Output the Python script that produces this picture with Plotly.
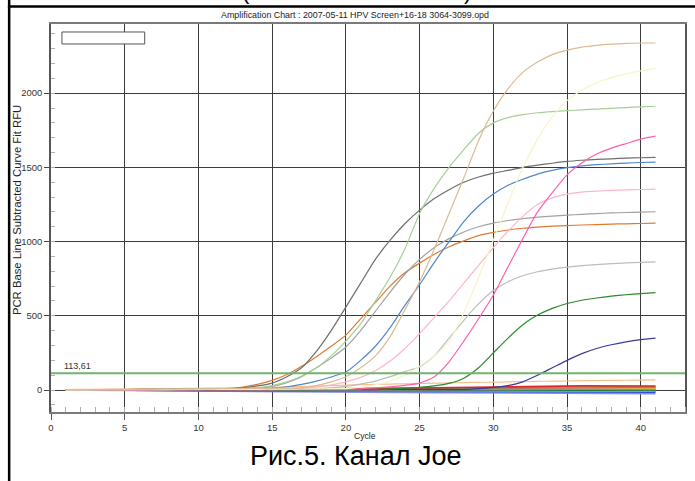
import plotly.graph_objects as go

# ---- data -------------------------------------------------------------
cycles = list(range(1, 42))

tan_curve = [2, 3, 3, 4, 4, 5, 5, 6, 6, 7, 8, 9, 10, 11, 12, 13,
             15, 30, 55, 90, 150, 230, 360, 540, 730, 950, 1190, 1430, 1680, 1880,
             2030, 2140, 2210, 2260, 2290, 2310, 2322, 2330, 2335, 2338, 2338]
pale_yellow_curve = [1, 1, 2, 2, 2, 3, 3, 3, 4, 4, 4, 5, 5, 5, 6, 6, 7, 8, 9,
                     10, 20, 35, 60, 100, 160, 230, 330, 520, 760, 1010, 1260, 1500,
                     1690, 1840, 1950, 2020, 2070, 2105, 2130, 2150, 2165]
light_green_curve = [1, 2, 2, 3, 3, 4, 4, 5, 5, 6, 7, 9, 11,
                     15, 30, 55, 95, 150, 230, 330, 445, 600, 760, 950, 1190, 1360,
                     1500, 1620, 1730, 1800, 1835, 1855, 1868, 1876, 1882, 1888, 1893,
                     1898, 1903, 1908, 1912]
magenta_curve = [0, 0, 1, 1, 1, 1, 2, 2, 2, 2, 2, 3, 3, 3, 3, 4, 4, 4, 5,
                 5, 8, 15, 22, 32, 47, 90, 190, 330, 480, 640, 830, 1020, 1200,
                 1330, 1450, 1530, 1590, 1630, 1660, 1690, 1710]
dark_gray_curve = [2, 2, 3, 3, 3, 4, 4, 5, 5, 6, 7, 9,
                   15, 28, 47, 90, 150, 260, 400, 559, 720, 880, 1010, 1120, 1212,
                   1290, 1350, 1400, 1435, 1461, 1480, 1500, 1515, 1528, 1540, 1548,
                   1554, 1558, 1562, 1565, 1568]
steel_blue_curve = [1, 1, 2, 2, 2, 3, 3, 3, 4, 4, 4, 5, 5,
                    5, 12, 22, 38, 60, 88, 121, 200, 295, 420, 570, 710, 860, 1000,
                    1135, 1240, 1320, 1380, 1420, 1455, 1480, 1498, 1510, 1518, 1524,
                    1529, 1533, 1536]
light_pink_curve = [1, 1, 1, 2, 2, 2, 3, 3, 3, 4, 4, 5, 5, 6, 8, 10, 14,
                    20, 35, 55, 85, 130, 195, 280, 380, 490, 600, 720, 840, 960, 1070,
                    1170, 1250, 1295, 1320, 1333, 1340, 1345, 1348, 1351, 1353]
gray_curve = [1, 2, 2, 3, 3, 3, 4, 4, 5, 5, 6, 7, 8,
              10, 25, 50, 90, 150, 215, 290, 400, 530, 660, 780, 880, 960, 1020,
              1065, 1100, 1125, 1142, 1155, 1165, 1172, 1178, 1184, 1189, 1193,
              1196, 1199, 1201]
orange_curve = [2, 2, 3, 3, 3, 4, 4, 5, 6, 7, 8,
                10, 20, 38, 65, 105, 160, 225, 295, 370, 480, 590, 700, 790, 855,
                915, 965, 1005, 1040, 1062, 1078, 1090, 1098, 1104, 1108, 1112, 1115,
                1118, 1120, 1122, 1124]
light_gray_curve = [1, 1, 1, 2, 2, 2, 2, 3, 3, 3, 4, 4, 4, 5, 5, 6, 8,
                    10, 15, 25, 40, 60, 90, 125, 155, 230, 350, 470, 580, 670, 730,
                    770, 797, 815, 828, 838, 845, 851, 856, 860, 863]
dark_green_curve = [0, 0, 0, 1, 1, 1, 1, 1, 2, 2, 2, 2, 2, 3, 3, 3, 3, 3, 4, 4, 4,
                    5, 8, 12, 18, 28, 45, 80, 150, 250, 350, 440, 505, 550, 583, 605,
                    620, 632, 642, 650, 656]
navy_curve = [0, 0, 0, 0, 1, 1, 1, 1, 1, 1, 2, 2, 2, 2, 2, 2, 3, 3, 3, 3, 3, 3,
              4, 4, 4, 4, 4,
              5, 10, 18, 30, 55, 100, 150, 200, 245, 280, 305, 325, 340, 350]
pale_orange_curve = [3, 4, 5, 6, 7, 8, 9, 10, 11, 12, 13, 14, 15, 17, 19, 21, 24,
                     27, 30, 33, 36, 38, 40, 42, 44, 46, 48, 50, 52, 53, 55, 57, 58,
                     60, 61, 63, 64, 65, 66, 67, 68]

# negative wells, sampled every 5 cycles
flat_cycles = [1, 6, 11, 16, 21, 26, 31, 36, 41]
flat_red = [0, 2, 3, 5, 10, 15, 20, 28, 27]
flat_olive = [0, 1, 2, 4, 8, 12, 15, 20, 22]
flat_brown = [0, 0, 2, 5, 6, 10, 12, 18, 20]
flat_yellow = [0, 1, 2, 3, 5, 8, 14, 10, 12]
flat_green = [0, 0, -2, 2, 5, 8, 12, 15, 14]
flat_lightgreen = [0, 3, 2, 0, 3, 4, 6, 10, 8]
flat_darkgreen = [0, -2, -3, -2, -1, 2, 2, 0, 0]
flat_teal = [0, -1, 0, -2, 0, -3, -2, -4, -3]
flat_cyan = [0, 0, -2, -3, -4, -5, -6, -8, -8]
flat_purple = [0, -3, -4, -5, -4, -2, -4, -6, -7]
flat_blue = [0, -2, -4, -6, -8, -10, -12, -14, -15]
flat_lavender = [0, -5, -8, -12, -15, -18, -20, -24, -25]
flat_lightblue = [0, -2, -3, -5, -6, -7, -8, -10, -12]
flat_violet = [0, 2, 1, 3, 2, 4, 3, 5, 4]

threshold = 113.61
threshold_label = "113,61"

x_ticks = [0, 5, 10, 15, 20, 25, 30, 35, 40]
y_ticks = [0, 500, 1000, 1500, 2000]

chart_title = "Amplification Chart : 2007-05-11 HPV Screen+16-18 3064-3099.opd"
x_title = "Cycle"
y_title = "PCR Base Line Subtracted Curve Fit RFU"
caption = "Рис.5. Канал Joe"

# ---- figure -------------------------------------------------------------
FONT = "Arial, Liberation Sans, sans-serif"
fig = go.Figure()

flat_series = [
    (flat_lavender, "#8c8ce6"), (flat_lightblue, "#6a98e6"), (flat_blue, "#2f4fe0"),
    (flat_purple, "#8a3cc8"), (flat_cyan, "#22d8e8"), (flat_teal, "#22a88a"),
    (flat_darkgreen, "#107a10"), (flat_lightgreen, "#70e070"), (flat_green, "#36b436"),
    (flat_yellow, "#d6cc22"), (flat_brown, "#a06a40"), (flat_olive, "#9a9a36"),
    (flat_violet, "#c070c0"), (flat_red, "#e02828"),
]
for vals, col in flat_series:
    fig.add_trace(go.Scatter(x=flat_cycles, y=vals, mode="lines",
                             line=dict(color=col, width=1.6), hoverinfo="skip"))

curves = [
    (pale_orange_curve, "#f6bf8e"),
    (navy_curve, "#3a3a98"),
    (dark_green_curve, "#2a8a2a"),
    (light_gray_curve, "#bdbdbd"),
    (orange_curve, "#de7a32"),
    (gray_curve, "#a2a2a2"),
    (light_pink_curve, "#ffb6c6"),
    (steel_blue_curve, "#4f88c6"),
    (dark_gray_curve, "#6e6e6e"),
    (magenta_curve, "#ff5fae"),
    (light_green_curve, "#a6cf98"),
    (pale_yellow_curve, "#f5f5c6"),
    (tan_curve, "#dcba92"),
]
for vals, col in curves:
    fig.add_trace(go.Scatter(x=cycles, y=vals, mode="lines",
                             line=dict(color=col, width=1.2, shape="spline", smoothing=0.6),
                             hoverinfo="skip"))

# threshold line
fig.add_hline(y=threshold, line=dict(color="#6fb46a", width=2), layer="above")
fig.add_annotation(x=0.75, y=threshold, xref="x", yref="y", text=threshold_label,
                   showarrow=False, xanchor="left", yanchor="bottom",
                   font=dict(family=FONT, size=9, color="#333"))

# empty legend box
fig.add_shape(type="rect", xref="paper", yref="paper",
              x0=0.0173, x1=0.1478, y0=0.9485, y1=0.9794,
              line=dict(color="#555", width=1), fillcolor="white", layer="above")

# outer frame
fig.add_shape(type="line", xref="paper", yref="paper",
              x0=-0.068, x1=1.02, y0=1.0451, y1=1.0451,
              line=dict(color="black", width=2.5))
fig.add_shape(type="line", xref="paper", yref="paper",
              x0=-0.0660, x1=-0.0660, y0=1.07, y1=-0.19,
              line=dict(color="black", width=2.5))

# text
fig.add_annotation(x=(356 - 51) / 636, y=1.0235, xref="paper", yref="paper", text=chart_title,
                   showarrow=False, xanchor="center", yanchor="middle",
                   font=dict(family=FONT, size=8.9, color="#222"))
fig.add_annotation(x=(247 - 51) / 636, y=1.047, xref="paper", yref="paper", text="(",
                   showarrow=False, xanchor="center", yanchor="bottom",
                   font=dict(family=FONT, size=22, color="black"))
fig.add_annotation(x=(469 - 51) / 636, y=1.047, xref="paper", yref="paper", text=")",
                   showarrow=False, xanchor="center", yanchor="bottom",
                   font=dict(family=FONT, size=22, color="black"))
fig.add_annotation(x=(366 - 51) / 636, y=(412 - 436) / 388, xref="paper", yref="paper",
                   text=x_title, showarrow=False, xanchor="center", yanchor="middle",
                   font=dict(family=FONT, size=8.6, color="#222"))
fig.add_annotation(x=(17 - 51) / 636, y=(412 - 210) / 388, xref="paper", yref="paper",
                   text=y_title, showarrow=False, textangle=-90,
                   xanchor="center", yanchor="middle",
                   font=dict(family=FONT, size=11.3, color="#222"))
fig.add_annotation(x=(357 - 51) / 636, y=(412 - 456) / 388, xref="paper", yref="paper",
                   text=caption, showarrow=False, xanchor="center", yanchor="middle",
                   font=dict(family=FONT, size=27, color="black"))

fig.update_layout(
    width=695, height=481,
    margin=dict(l=51, r=8, t=24, b=69),
    paper_bgcolor="white", plot_bgcolor="white",
    showlegend=False,
    font=dict(family=FONT, size=9, color="#333"),
)
fig.update_xaxes(
    range=[0, 43], tickvals=x_ticks, ticks="outside", ticklen=6, tickcolor="#555",
    showgrid=True, gridcolor="#3c3c3c", gridwidth=1, zeroline=False,
    showline=True, linecolor="#7a7a7a", linewidth=2, mirror=True,
    tickfont=dict(family=FONT, size=9.5, color="#333"),
    minor=dict(dtick=1, ticks="inside", ticklen=5, tickcolor="#b0b0b0", showgrid=False),
)
fig.update_yaxes(
    range=[-148, 2466], tickvals=y_ticks, ticks="outside", ticklen=5, tickcolor="#444",
    showgrid=True, gridcolor="#3c3c3c", gridwidth=1, zeroline=False,
    showline=True, linecolor="#555", linewidth=1.5, mirror=True,
    tickfont=dict(family=FONT, size=9.5, color="#333"),
    minor=dict(dtick=100, ticks="inside", ticklen=4, tickcolor="#b0b0b0", showgrid=False),
)

fig.write_html("out.html")
